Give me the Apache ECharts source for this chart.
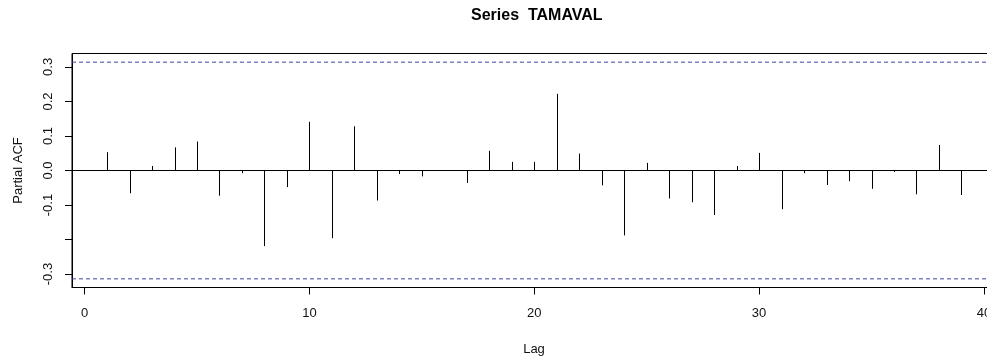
<!DOCTYPE html>
<html>
<head>
<meta charset="utf-8">
<script src="https://cdn.jsdelivr.net/npm/echarts@6/dist/echarts.min.js"></script>
<style>
html,body{margin:0;padding:0;background:#fff;}
#chart{width:987px;height:356px;}
</style>
</head>
<body>
<div id="chart"></div>
<script>
const lags = [1,2,3,4,5,6,7,8,9,10,11,12,13,14,15,16,17,18,19,20,21,22,23,24,25,26,27,28,29,30,31,32,33,34,35,36,37,38,39,40];
const pacfValues = [0.053,-0.066,0.013,0.067,0.084,-0.073,-0.008,-0.219,-0.048,0.141,-0.196,0.128,-0.087,-0.010,-0.017,0.001,-0.036,0.057,0.025,0.025,0.222,0.049,-0.043,-0.188,0.022,-0.081,-0.092,-0.129,0.013,0.051,-0.112,-0.008,-0.042,-0.031,-0.053,-0.004,-0.069,0.074,-0.071,0.001];
const ciLimit = 0.3138;
const xRange = [-0.56, 41.56];
const yRange = [-0.3389, 0.3389];
const xTicks = [0,10,20,30,40];
const yTicks = [-0.3,-0.2,-0.1,0,0.1,0.2,0.3];
const yTickLabels = [-0.3,-0.1,0,0.1,0.2,0.3];
const titleText = 'Series  TAMAVAL';
const xName = 'Lag';
const yName = 'Partial ACF';

const font = 'Liberation Sans, Arial, sans-serif';
const ciStyle = {color: '#4040a8', type: [4, 3], width: 1};
const chart = echarts.init(document.getElementById('chart'));
chart.setOption({
  animation: false,
  backgroundColor: '#fff',
  title: {
    text: titleText,
    left: 466,
    top: 3,
    textStyle: {fontFamily: font, fontSize: 16, fontWeight: 'bold', color: '#000'}
  },
  grid: {left: 72, top: 53.5, right: -32, bottom: 68.5, outerBoundsMode: 'none', containLabel: false,
    show: true, borderColor: '#000', borderWidth: 1, backgroundColor: 'transparent'},
  xAxis: {
    type: 'value', min: xRange[0], max: xRange[1],
    name: xName, nameLocation: 'middle', nameGap: 55,
    nameTextStyle: {fontFamily: font, fontSize: 13, color: '#111', padding: [0, 23, 0, 0]},
    axisLine: {show: true, onZero: false, lineStyle: {color: '#000'}},
    axisTick: {show: true, length: 7, inside: false, customValues: xTicks, lineStyle: {color: '#000'}},
    axisLabel: {fontFamily: font, fontSize: 13, color: '#111', margin: 19, customValues: xTicks},
    splitLine: {show: false}
  },
  yAxis: {
    type: 'value', min: yRange[0], max: yRange[1],
    name: yName, nameLocation: 'middle', nameGap: 47, nameRotate: 90,
    nameTextStyle: {fontFamily: font, fontSize: 13, color: '#111'},
    axisLine: {show: true, onZero: false, lineStyle: {color: '#000'}},
    axisTick: {show: true, length: 7, inside: false, customValues: yTicks, lineStyle: {color: '#000'}},
    axisLabel: {fontFamily: font, fontSize: 13, color: '#111', rotate: 90, margin: 17, customValues: yTickLabels,
      formatter: v => Number(v).toFixed(1)},
    splitLine: {show: false}
  },
  series: [
    {
      type: 'line', name: 'upper', showSymbol: false, silent: true,
      data: [[xRange[0], ciLimit], [xRange[1], ciLimit]],
      lineStyle: ciStyle, itemStyle: {color: ciStyle.color}
    },
    {
      type: 'line', name: 'lower', showSymbol: false, silent: true,
      data: [[xRange[0], -ciLimit], [xRange[1], -ciLimit]],
      lineStyle: ciStyle, itemStyle: {color: ciStyle.color}
    },
    {
      type: 'line', name: 'zero', showSymbol: false, silent: true,
      data: [[xRange[0], 0], [xRange[1], 0]],
      lineStyle: {color: '#000', width: 1}, itemStyle: {color: '#000'}
    },
    {
      type: 'custom',
      data: lags.map((l, i) => [l, pacfValues[i]]),
      renderItem: function (params, api) {
        const p0 = api.coord([api.value(0), 0]);
        const p1 = api.coord([api.value(0), api.value(1)]);
        const x = Math.round(p0[0]) + 0.5;
        return {type: 'line', shape: {x1: x, y1: p0[1], x2: x, y2: p1[1]}, style: {stroke: '#000', lineWidth: 1}};
      }
    }
  ]
});
</script>
</body>
</html>
